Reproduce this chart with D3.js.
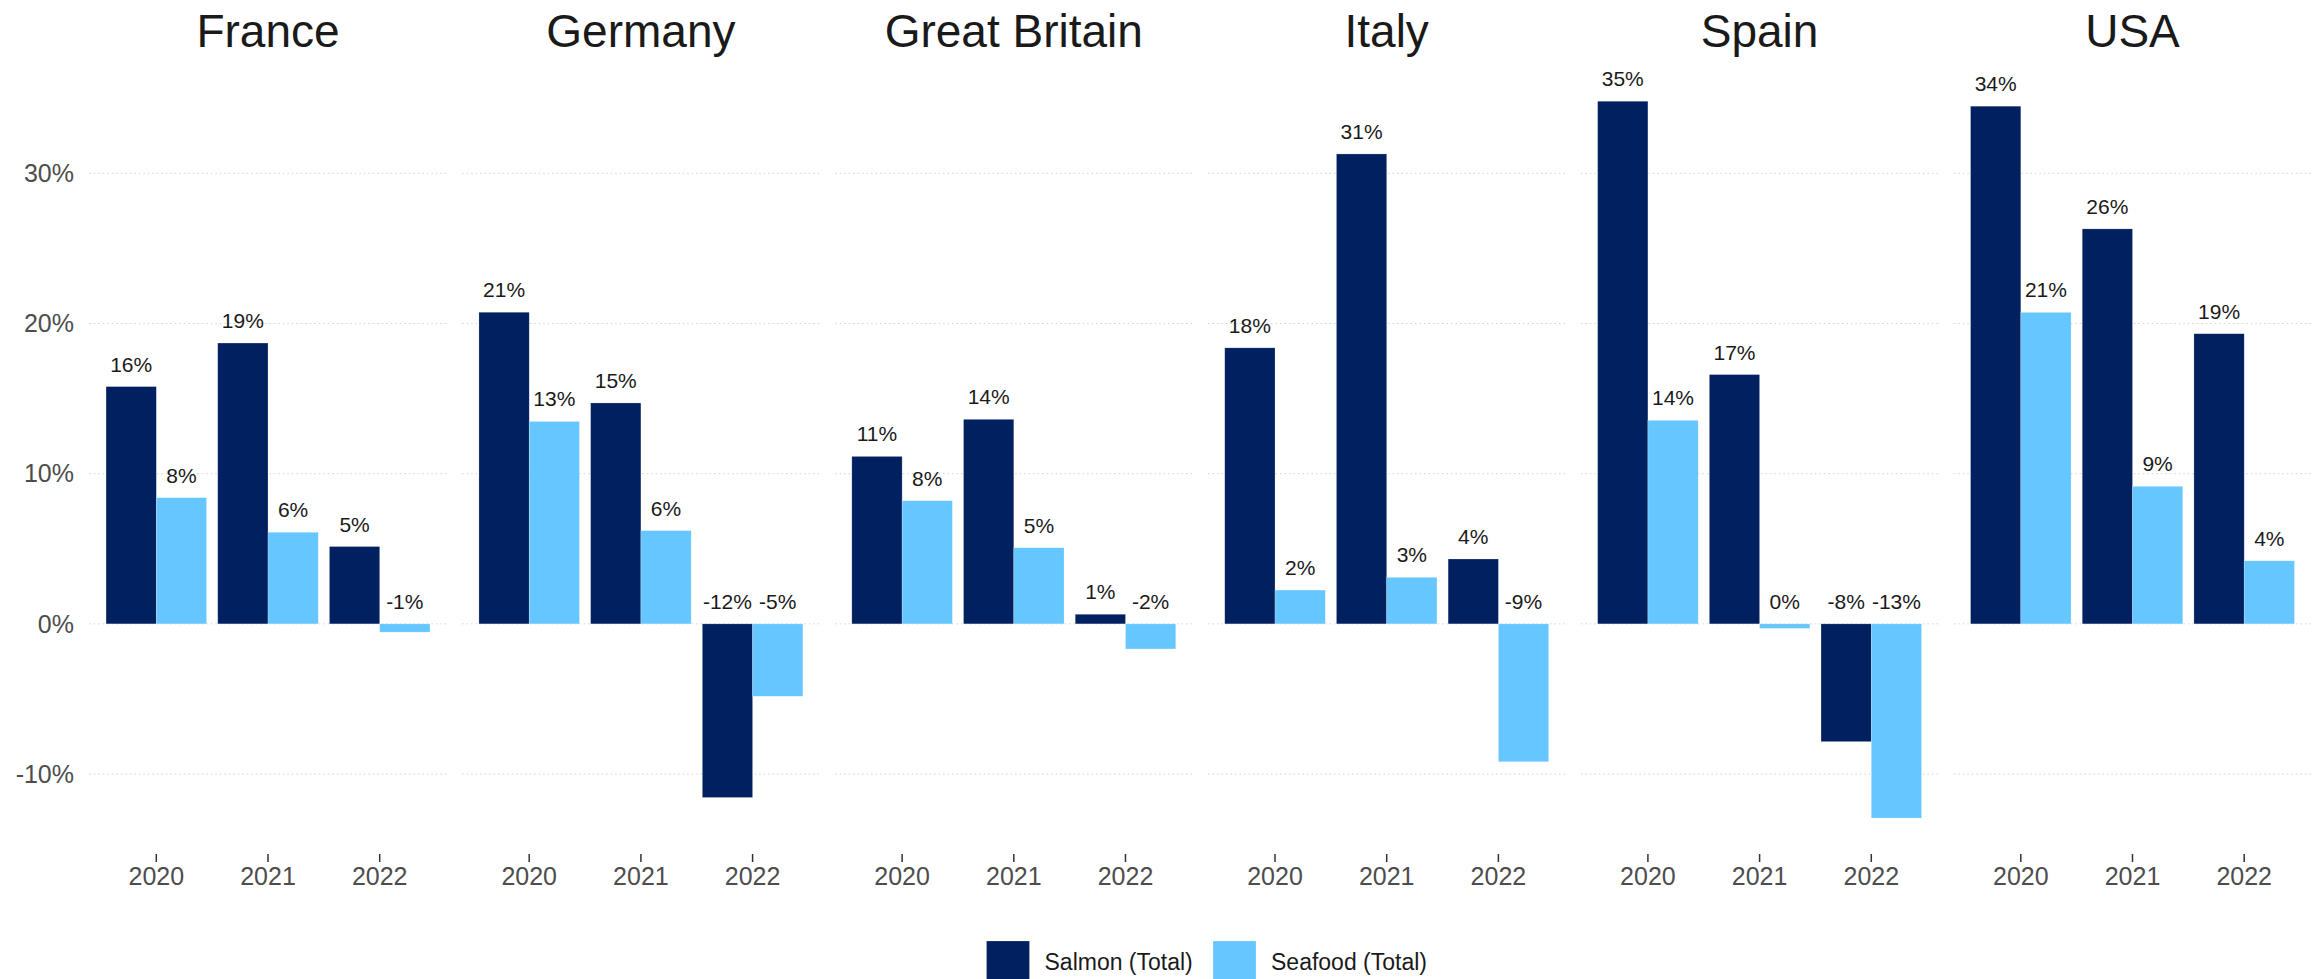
<!DOCTYPE html>
<html>
<head>
<meta charset="utf-8">
<script src="https://cdn.jsdelivr.net/npm/d3@7"></script>
<style>
  html, body { margin: 0; padding: 0; background: #ffffff; }
  svg { display: block; font-family: "Liberation Sans", Arial, Helvetica, sans-serif; }
</style>
</head>
<body>
<svg id="chart" width="2320" height="979"></svg>
<script>
// Year-on-year change, salmon vs. total seafood, by market
const countries = ["France", "Germany", "Great Britain", "Italy", "Spain", "USA"];
const years = ["2020", "2021", "2022"];
const seriesNames = ["Salmon (Total)", "Seafood (Total)"];
const seriesColors = ["#002060", "#66c6ff"];

// one row per country, one value (%) per year
const salmonValues = [
  [15.8, 18.7, 5.15],
  [20.75, 14.71, -11.56],
  [11.15, 13.62, 0.64],
  [18.38, 31.29, 4.32],
  [34.8, 16.6, -7.84],
  [34.47, 26.3, 19.32]
];
const seafoodValues = [
  [8.4, 6.1, -0.55],
  [13.48, 6.21, -4.82],
  [8.2, 5.07, -1.67],
  [2.25, 3.1, -9.18],
  [13.55, -0.3, -12.93],
  [20.74, 9.16, 4.2]
];
const yTicks = [-10, 0, 10, 20, 30];

const svg = d3.select("#chart");

// layout
const panelLeft = 89.3, panelWidth = 357.4, panelGap = 15.5;
const panelTop = 65.4, panelBottom = 853.9;

// shared y scale with 5% expansion around the data
const allVals = salmonValues.flat().concat(seafoodValues.flat());
const [vMin, vMax] = d3.extent(allVals);
const pad = (vMax - vMin) * 0.05;
const y = d3.scaleLinear().domain([vMin - pad, vMax + pad]).range([panelBottom, panelTop]);

const fmt = v => String(Math.round(v) === 0 ? 0 : Math.round(v)) + "%";

// y axis labels (left of first panel)
svg.append("g").selectAll("text").data(yTicks).join("text")
  .attr("x", 74)
  .attr("y", d => y(d))
  .attr("dy", "0.35em")
  .attr("text-anchor", "end")
  .attr("font-size", 25)
  .attr("fill", "#4d4d4d")
  .text(d => d + "%");

countries.forEach((country, ci) => {
  const x0 = panelLeft + ci * (panelWidth + panelGap);
  const g = svg.append("g");

  const x = d3.scaleBand().domain(years).range([x0, x0 + panelWidth])
    .paddingInner(0.1).paddingOuter(0.15);
  const xs = d3.scaleBand().domain(seriesNames).range([0, x.bandwidth()]);

  // dotted horizontal grid
  g.append("g").selectAll("line").data(yTicks).join("line")
    .attr("x1", x0).attr("x2", x0 + panelWidth)
    .attr("y1", d => y(d)).attr("y2", d => y(d))
    .attr("stroke", "#d4d4d4")
    .attr("stroke-width", 1)
    .attr("stroke-dasharray", "1.5,3");

  // facet title
  g.append("text")
    .attr("x", x0 + panelWidth / 2)
    .attr("y", 47)
    .attr("text-anchor", "middle")
    .attr("font-size", 46)
    .attr("fill", "#1a1a1a")
    .text(country);

  const rows = [];
  years.forEach((yr, yi) => {
    rows.push({ year: yr, series: seriesNames[0], color: seriesColors[0], v: salmonValues[ci][yi] });
    rows.push({ year: yr, series: seriesNames[1], color: seriesColors[1], v: seafoodValues[ci][yi] });
  });

  // bars
  g.append("g").selectAll("rect").data(rows).join("rect")
    .attr("x", d => x(d.year) + xs(d.series))
    .attr("width", xs.bandwidth())
    .attr("y", d => y(Math.max(d.v, 0)))
    .attr("height", d => Math.abs(y(d.v) - y(0)))
    .attr("fill", d => d.color)
    .attr("stroke", "#ffffff")
    .attr("stroke-opacity", 0.35)
    .attr("stroke-width", 0.6);

  // value labels
  g.append("g").selectAll("text").data(rows).join("text")
    .attr("x", d => x(d.year) + xs(d.series) + xs.bandwidth() / 2)
    .attr("y", d => y(Math.max(d.v, 0)) - 15)
    .attr("text-anchor", "middle")
    .attr("font-size", 21)
    .attr("fill", "#1a1a1a")
    .text(d => fmt(d.v));

  // x axis ticks and labels
  const ax = g.append("g").selectAll("g").data(years).join("g")
    .attr("transform", d => `translate(${x(d) + x.bandwidth() / 2},0)`);
  ax.append("line")
    .attr("y1", 854).attr("y2", 862)
    .attr("stroke", "#333333").attr("stroke-width", 1.5);
  ax.append("text")
    .attr("y", 885)
    .attr("text-anchor", "middle")
    .attr("font-size", 25)
    .attr("fill", "#4d4d4d")
    .text(d => d);
});

// legend
const legend = svg.append("g");
const legendItems = [
  { name: seriesNames[0], color: seriesColors[0], x: 986.5 },
  { name: seriesNames[1], color: seriesColors[1], x: 1213 }
];
const lg = legend.selectAll("g").data(legendItems).join("g")
  .attr("transform", d => `translate(${d.x},0)`);
lg.append("rect")
  .attr("x", 0).attr("y", 941)
  .attr("width", 43).attr("height", 43)
  .attr("fill", d => d.color)
  .attr("stroke", "#ffffff").attr("stroke-opacity", 0.35).attr("stroke-width", 0.6);
lg.append("text")
  .attr("x", 58).attr("y", 962)
  .attr("dy", "0.35em")
  .attr("font-size", 23)
  .attr("fill", "#1a1a1a")
  .text(d => d.name);
</script>
</body>
</html>
